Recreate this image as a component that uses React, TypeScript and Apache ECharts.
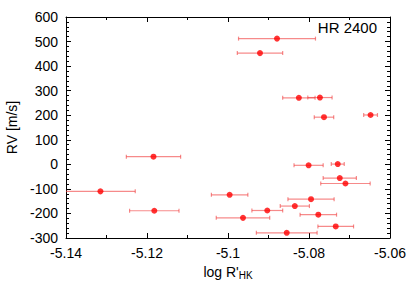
import React, { useEffect, useRef } from "react";
import * as echarts from "echarts";

const logR = [-5.0879, -5.0921, -5.0825, -5.0773, -5.0763, -5.0648, -5.1184, -5.1315, -5.0801, -5.0729, -5.0724, -5.0710, -5.0996, -5.0795, -5.0835, -5.0903, -5.0777, -5.0963, -5.0734, -5.0855, -5.1182];
const rv = [512, 453, 271, 272, 192, 201, 31, -110, -4, 1, -56, -78, -124, -142, -170, -188, -205, -218, -253, -279, -189];
const logRErr = [0.0095, 0.0056, 0.004, 0.003, 0.0024, 0.0017, 0.0067, 0.0086, 0.0036, 0.0016, 0.0041, 0.0061, 0.0045, 0.0057, 0.0036, 0.0038, 0.0045, 0.0066, 0.0044, 0.0075, 0.0061];
const xTicks = { min: -5.14, max: -5.06, interval: 0.02 };
const yTicks = { min: -300, max: 600, interval: 100 };

export default function App() {
  const ref = useRef<HTMLDivElement>(null);
  useEffect(() => {
    if (!ref.current) return;
    const chart = echarts.init(ref.current, undefined, { renderer: "svg" });
    const font = "Liberation Sans, Arial, Helvetica, sans-serif";
    const errData = logR.map((x, i) => [x - logRErr[i], x + logRErr[i], rv[i]]);
    const pts = logR.map((x, i) => [x, rv[i]]);
    const axisCommon = {
      axisLine: { show: true, onZero: false, lineStyle: { color: "#000", width: 1 } },
      splitLine: { show: false },
    };
    chart.setOption({
      animation: false,
      grid: { left: 66, right: 25, top: 17, bottom: 45, containLabel: false, outerBoundsMode: "none" },
      xAxis: [
        {
          type: "value", ...xTicks, position: "bottom", ...axisCommon,
          axisTick: { inside: true, length: 5, lineStyle: { color: "#000" } },
          minorTick: { show: true, splitNumber: 2, length: 3, lineStyle: { color: "#000" } },
          axisLabel: { color: "#000", fontSize: 14, fontFamily: font, margin: 8 },
          name: "{b|log R'}{sub|HK}", nameLocation: "middle", nameGap: 28,
          nameTextStyle: {
            color: "#000", fontSize: 14, fontFamily: font,
            rich: {
              b: { fontSize: 14, lineHeight: 14, fontFamily: font, color: "#000", padding: [0, 0, 3, 0] },
              sub: { fontSize: 10, lineHeight: 10, fontFamily: font, color: "#000", verticalAlign: "bottom" },
            },
          },
        },
        {
          type: "value", ...xTicks, position: "top", ...axisCommon,
          axisTick: { inside: true, length: 5, lineStyle: { color: "#000" } },
          minorTick: { show: true, splitNumber: 2, length: 3, lineStyle: { color: "#000" } },
          axisLabel: { show: false },
        },
      ],
      yAxis: [
        {
          type: "value", ...yTicks, position: "left", ...axisCommon,
          axisTick: { inside: true, length: 5, lineStyle: { color: "#000" } },
          minorTick: { show: true, splitNumber: 5, length: 3, lineStyle: { color: "#000" } },
          axisLabel: { color: "#000", fontSize: 14, fontFamily: font, margin: 8 },
          name: "RV [m/s]", nameLocation: "middle", nameGap: 39, nameRotate: 90,
          nameTextStyle: { color: "#000", fontSize: 14, fontFamily: font },
        },
        {
          type: "value", ...yTicks, position: "right", ...axisCommon,
          axisTick: { inside: true, length: 5, lineStyle: { color: "#000" } },
          minorTick: { show: true, splitNumber: 5, length: 3, lineStyle: { color: "#000" } },
          axisLabel: { show: false },
        },
      ],
      graphic: [
        {
          type: "text", right: 38, top: 20,
          style: { text: "HR 2400", fontSize: 15, fontFamily: font, fill: "#000" },
        },
      ],
      series: [
        {
          type: "custom",
          clip: true,
          data: errData,
          encode: { x: [0, 1], y: 2 },
          renderItem: (params: any, api: any) => {
            const a = api.coord([api.value(0), api.value(2)]);
            const b = api.coord([api.value(1), api.value(2)]);
            const c = 2;
            const style = { stroke: "rgba(240,60,60,0.6)", lineWidth: 1.2 };
            return {
              type: "group",
              children: [
                { type: "line", shape: { x1: a[0], y1: a[1], x2: b[0], y2: b[1] }, style },
                { type: "line", shape: { x1: a[0], y1: a[1] - c, x2: a[0], y2: a[1] + c }, style },
                { type: "line", shape: { x1: b[0], y1: b[1] - c, x2: b[0], y2: b[1] + c }, style },
              ],
            };
          },
          z: 2,
        },
        {
          type: "scatter",
          data: pts,
          symbol: "circle",
          symbolSize: 6,
          itemStyle: { color: "#ff0000" },
          z: 3,
        },
      ],
    });
    return () => chart.dispose();
  }, []);
  return <div ref={ref} style={{ width: 415, height: 283, position: "absolute", left: 0, top: 0 }} />;
}
